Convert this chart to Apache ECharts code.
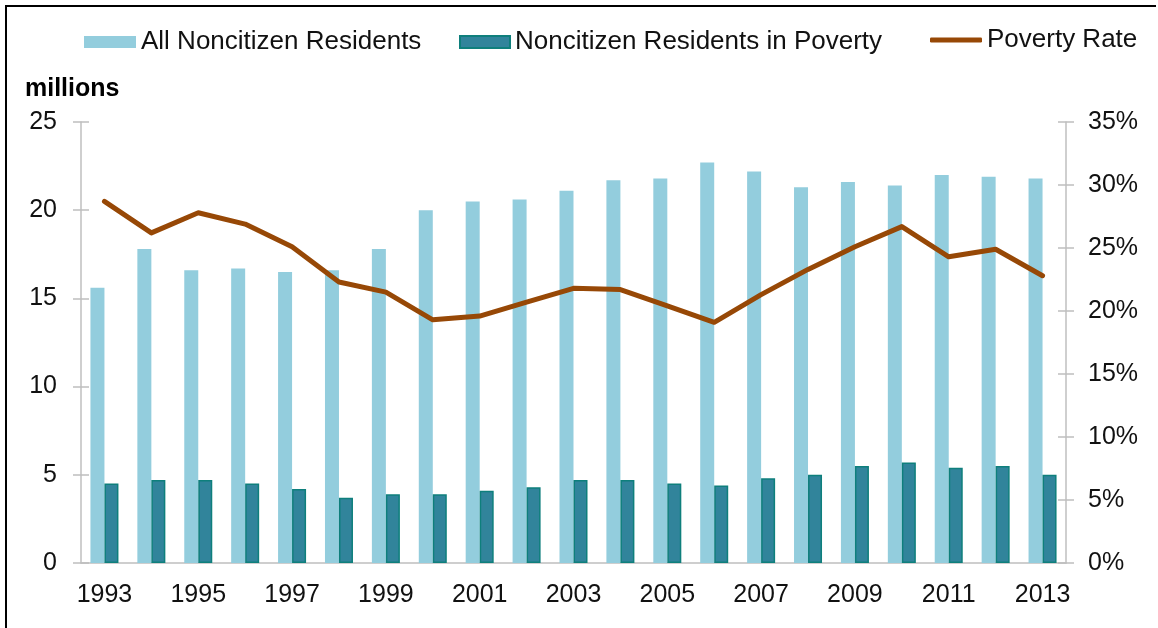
<!DOCTYPE html>
<html>
<head>
<meta charset="utf-8">
<script src="https://cdn.jsdelivr.net/npm/echarts@6/dist/echarts.min.js"></script>
<style>
  html, body { margin: 0; padding: 0; background: #fff; }
  #wrap { position: relative; width: 1158px; height: 628px; }
  #chart { position: absolute; left: 0; top: 0; width: 1158px; height: 628px; }
  #frame { position: absolute; left: 5px; top: 5px; width: 1151px; height: 623px;
           border-top: 2px solid #000; border-left: 2px solid #000; box-sizing: border-box; pointer-events: none; }
</style>
</head>
<body>
<div id="wrap">
  <div id="chart"></div>
  <div id="frame"></div>
</div>
<script>
// years on the x axis
var years = ['1993','1994','1995','1996','1997','1998','1999','2000','2001','2002','2003',
             '2004','2005','2006','2007','2008','2009','2010','2011','2012','2013'];
// millions
var allNoncitizen = [15.6, 17.8, 16.6, 16.7, 16.5, 16.6, 17.8, 20.0, 20.5, 20.6, 21.1,
                     21.7, 21.8, 22.7, 22.2, 21.3, 21.6, 21.4, 22.0, 21.9, 21.8];
var inPoverty = [4.5, 4.7, 4.7, 4.5, 4.2, 3.7, 3.9, 3.9, 4.1, 4.3, 4.7,
                 4.7, 4.5, 4.4, 4.8, 5.0, 5.5, 5.7, 5.4, 5.5, 5.0];
// percent
var povertyRate = [28.7, 26.2, 27.8, 26.9, 25.1, 22.3, 21.5, 19.3, 19.6, 20.7, 21.8,
                   21.7, 20.4, 19.1, 21.3, 23.3, 25.1, 26.7, 24.3, 24.9, 22.8];

var font = 'Liberation Sans, Arial, sans-serif';
var axisGray = '#bfbfbf';
var textColor = '#111';

var chart = echarts.init(document.getElementById('chart'));

function legendBox(name, left, top, w, h, icon) {
    return {
        data: [{ name: name, icon: icon }],
        left: left, top: top, padding: 0,
        itemWidth: w, itemHeight: h,
        textStyle: { fontFamily: font, fontSize: 26, color: textColor },
        selectedMode: false
    };
}

var option = {
    animation: false,
    title: {
        text: 'millions', left: 25, top: 77, padding: 0,
        textStyle: { fontFamily: font, fontSize: 25, fontWeight: 'bold', color: '#000' }
    },
    legend: [
        legendBox('All Noncitizen Residents', 84, 29, 52, 12, 'rect'),
        legendBox('Noncitizen Residents in Poverty', 459, 29, 50, 12, 'rect'),
        legendBox('Poverty Rate', 930, 27, 52, 5, 'roundRect')
    ],
    grid: { left: 81, right: 92, top: 122, bottom: 65 },
    xAxis: {
        type: 'category',
        data: years,
        axisLine: { lineStyle: { color: axisGray, width: 1.5 } },
        axisTick: { show: false },
        axisLabel: { interval: 1, margin: 20, fontFamily: font, fontSize: 25, color: textColor }
    },
    yAxis: [
        {
            type: 'value', position: 'left', min: 0, max: 25, interval: 5,
            axisLine: { show: true, lineStyle: { color: axisGray, width: 1.5 } },
            axisTick: { show: true, length: 8, lineStyle: { color: axisGray, width: 1.5 } },
            splitLine: { show: false },
            axisLabel: { margin: 24, fontFamily: font, fontSize: 25, color: textColor }
        },
        {
            type: 'value', position: 'right', min: 0, max: 35, interval: 5,
            axisLine: { show: true, lineStyle: { color: axisGray, width: 1.5 } },
            axisTick: { show: true, length: 8, lineStyle: { color: axisGray, width: 1.5 } },
            splitLine: { show: false },
            axisLabel: { margin: 22, formatter: '{value}%', fontFamily: font, fontSize: 25, color: textColor }
        },
        // inner halves of the cross ticks
        {
            type: 'value', position: 'left', min: 0, max: 25, interval: 5,
            axisLine: { show: false },
            axisTick: { show: true, inside: true, length: 8, lineStyle: { color: axisGray, width: 1.5 } },
            splitLine: { show: false }, axisLabel: { show: false }
        },
        {
            type: 'value', position: 'right', min: 0, max: 35, interval: 5,
            axisLine: { show: false },
            axisTick: { show: true, inside: true, length: 8, lineStyle: { color: axisGray, width: 1.5 } },
            splitLine: { show: false }, axisLabel: { show: false }
        }
    ],
    series: [
        {
            name: 'All Noncitizen Residents',
            type: 'bar',
            data: allNoncitizen,
            barWidth: 14,
            barGap: '0%',
            itemStyle: { color: '#93cddd' }
        },
        {
            name: 'Noncitizen Residents in Poverty',
            type: 'bar',
            data: inPoverty,
            barWidth: 14,
            itemStyle: { color: '#31849b', borderColor: '#0e7f7c', borderWidth: 1.5 }
        },
        {
            name: 'Poverty Rate',
            type: 'line',
            yAxisIndex: 1,
            data: povertyRate,
            symbol: 'none',
            itemStyle: { color: '#974806' },
            lineStyle: { color: '#974806', width: 5, cap: 'round', join: 'round' }
        }
    ]
};

chart.setOption(option);
</script>
</body>
</html>
